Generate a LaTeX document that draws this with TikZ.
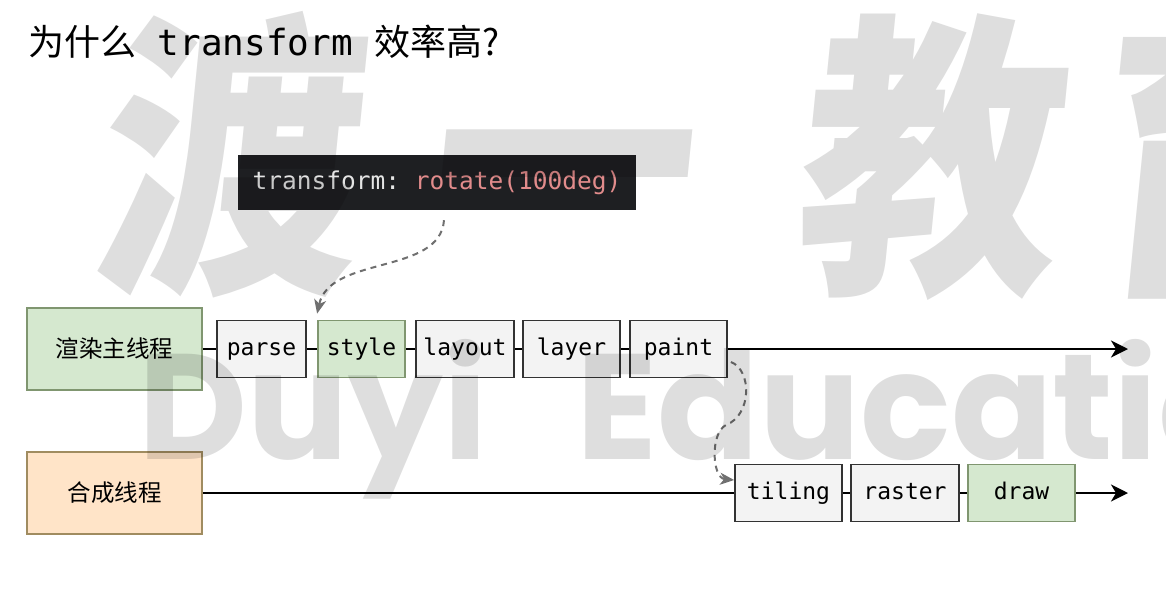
\documentclass[tikz,border=0pt]{standalone}
\usepackage{fontspec}
\setmonofont{DejaVu Sans Mono}
\newfontfamily\cjk{Noto Sans CJK SC}
\newfontfamily\wmcjk{Noto Sans CJK SC}[FakeSlant=0.1,FakeStretch=0.88]
\newfontfamily\wmlatin{Poppins}
\usetikzlibrary{arrows.meta}

\definecolor{codebg}{RGB}{30,31,34}
\definecolor{codered}{RGB}{226,140,140}
\definecolor{greenfill}{RGB}{213,232,207}
\definecolor{greenline}{RGB}{128,150,112}
\definecolor{peachfill}{RGB}{255,228,200}
\definecolor{peachline}{RGB}{160,140,96}
\definecolor{stepfill}{RGB}{243,243,243}
\definecolor{dashgray}{RGB}{112,112,112}

\tikzset{
  thread/.style={draw, line width=2pt, minimum width=175pt, minimum height=82pt,
    font=\cjk\fontsize{23.5}{26}\selectfont},
  stage/.style={draw=black!80, line width=1.8pt, fill=stepfill, minimum height=57pt,
    inner sep=0pt, text height=16pt, text depth=4pt,
    font=\ttfamily\fontsize{23}{26}\selectfont},
  link/.style={line width=2.4pt},
  flow/.style={line width=2.4pt, -{Stealth[length=17pt,width=17pt,inset=5pt]}},
  hint/.style={dashgray, line width=2pt, dash pattern=on 6pt off 5pt,
    -{Stealth[length=14pt,width=12pt,inset=4pt]}}
}

\begin{document}
\begin{tikzpicture}[x=1pt,y=-1pt]
  \useasboundingbox (0,0) rectangle (1166,590);
  \clip (0,0) rectangle (1166,590);

  % title
  \node[anchor=base west, inner sep=0pt] (title) at (28,55)
    {\fontsize{36}{40}\selectfont\cjk 为什么{\ttfamily\ transform\ }效率高?};

  % css snippet
  \node[fill=codebg, minimum width=398pt, minimum height=55pt, inner sep=0pt,
    font=\ttfamily\fontsize{24.5}{28}\selectfont] (code) at (437,182.5)
    {\textcolor{white!90!black}{transform:} \textcolor{codered}{rotate(100deg)}};

  % main thread
  \node[thread, fill=greenfill, draw=greenline] (render) at (114.5,349) {渲染主线程};
  \node[stage, minimum width=89pt] (parse) at (261.5,349) {parse};
  \node[stage, minimum width=87pt, fill=greenfill, draw=greenline] (style) at (361.5,349) {style};
  \node[stage, minimum width=98pt] (layout) at (465,349) {layout};
  \node[stage, minimum width=97pt] (layer) at (571.5,349) {layer};
  \node[stage, minimum width=97pt] (paint) at (678.5,349) {paint};
  \coordinate (end1) at (1128,349);

  % compositor thread
  \node[thread, fill=peachfill, draw=peachline] (comp) at (114.5,493) {合成线程};
  \node[stage, minimum width=107pt] (tiling) at (788.5,493) {tiling};
  \node[stage, minimum width=108pt] (raster) at (905,493) {raster};
  \node[stage, minimum width=107pt, fill=greenfill, draw=greenline] (draw) at (1021.5,493) {draw};
  \coordinate (end2) at (1128,493);

  \draw[link] (render) -- (parse);
  \draw[link] (parse) -- (style);
  \draw[link] (style) -- (layout);
  \draw[link] (layout) -- (layer);
  \draw[link] (layer) -- (paint);
  \draw[flow] (paint) -- (end1);
  \draw[link] (comp) -- (tiling);
  \draw[link] (tiling) -- (raster);
  \draw[link] (raster) -- (draw);
  \draw[flow] (draw) -- (end2);

  % dashed hints
  \draw[hint] ([xshift=7pt,yshift=-10pt]code.south)
    .. controls +(-4,55) and (330,255) .. ([yshift=6pt]style.north west);
  \draw[hint] ([xshift=3pt,yshift=-13pt]paint.east)
    .. controls (752,370) and (752,415) .. (726,425)
    .. controls (710,433) and (712,478) .. ([yshift=13pt]tiling.west);

  % watermark
  \begin{scope}[text opacity=0.13]
    \foreach \ch/\cx in {渡/222, 一/555, 教/923, 育/1218}
      \node[anchor=base, font=\wmcjk\bfseries\fontsize{300}{300}\selectfont, inner sep=0pt] (wm\cx) at (\cx,270) {\ch};
    \node[anchor=base west, inner sep=0pt, font=\wmlatin\bfseries\fontsize{150}{150}\selectfont]
      (wmtext) at (138,459) {\makebox[438pt][l]{Duyi}Education};
  \end{scope}
\end{tikzpicture}
\end{document}
